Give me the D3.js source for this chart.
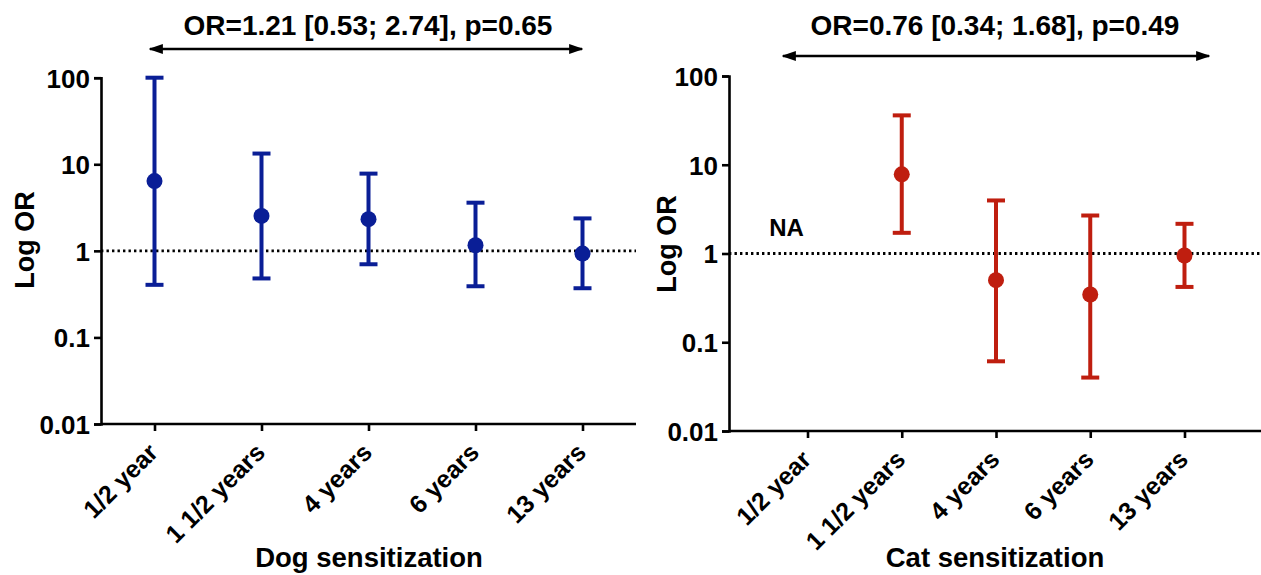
<!DOCTYPE html>
<html lang="en">
<head>
<meta charset="UTF-8">
<title>Dog and cat sensitization OR</title>
<script src="https://d3js.org/d3.v7.min.js"></script>
<style>
  body { margin: 0; background: #fff; }
  svg text { font-family: "Liberation Sans", Arial, sans-serif; font-weight: bold; fill: #000; }
</style>
</head>
<body>
<svg id="main" width="1261" height="575"></svg>
<script>
// values
const categories = ["1/2 year", "1 1/2 years", "4 years", "6 years", "13 years"];
const yTicks = [0.01, 0.1, 1, 10, 100];

const dogOR   = [6.4, 2.53, 2.32, 1.16, 0.93];
const dogLow  = [0.405, 0.48, 0.70, 0.39, 0.37];
const dogHigh = [100, 13.3, 7.8, 3.6, 2.37];

const catOR   = [null, 7.8, 0.50, 0.345, 0.95];
const catLow  = [null, 1.71, 0.061, 0.040, 0.42];
const catHigh = [null, 36, 3.96, 2.68, 2.16];

const dogTitle = "OR=1.21 [0.53; 2.74], p=0.65";
const catTitle = "OR=0.76 [0.34; 1.68], p=0.49";

let svg = d3.select("svg#main");

// one arrowhead, reversed at the start
svg.append("defs").append("marker")
    .attr("id", "arrowHead")
    .attr("viewBox", "0 0 10 10")
    .attr("refX", 9).attr("refY", 5)
    .attr("markerWidth", 5.5).attr("markerHeight", 5.5)
    .attr("markerUnits", "strokeWidth")
    .attr("orient", "auto-start-reverse")
    .append("path")
    .attr("d", "M0,1.5 L10,5 L0,8.5 Z")
    .attr("fill", "#000");

function drawPanel(p) {
    let g = svg.append("g");

    let x = d3.scalePoint()
        .domain(categories)
        .range([p.left, p.right])
        .padding(p.pad);

    let y = d3.scaleLog()
        .domain([0.01, 100])
        .range([p.bottom, p.top]);

    // reference line at OR = 1
    g.append("line")
        .attr("x1", p.left).attr("x2", p.right)
        .attr("y1", y(1)).attr("y2", y(1))
        .attr("stroke", "#000")
        .attr("stroke-width", 2.8)
        .attr("stroke-dasharray", "2.4,3.1");

    // axes
    let yAxis = g.append("g")
        .attr("transform", "translate(" + p.left + ",0)")
        .call(d3.axisLeft(y).tickValues(yTicks).tickFormat(d => String(d)).tickSize(7).tickPadding(4));
    let xAxis = g.append("g")
        .attr("transform", "translate(0," + p.bottom + ")")
        .call(d3.axisBottom(x).tickSize(7).tickFormat(""));
    [yAxis, xAxis].forEach(function(a) {
        a.select(".domain").attr("stroke", "#000").attr("stroke-width", 2.6);
        a.selectAll(".tick line").attr("stroke", "#000").attr("stroke-width", 2.6);
    });
    yAxis.selectAll(".tick text")
        .style("font-size", "26px")
        .attr("dy", "0.36em");
    xAxis.select(".domain").attr("d", "M" + p.left + ",0H" + p.right);

    // rotated category labels
    g.selectAll(".xlab")
        .data(categories)
        .enter()
        .append("text")
        .attr("class", "xlab")
        .attr("transform", d => "translate(" + (x(d) + 5) + "," + (p.bottom + 30) + ") rotate(-45)")
        .attr("text-anchor", "end")
        .style("font-size", "25px")
        .text(d => d);

    // axis titles
    g.append("text")
        .attr("transform", "translate(" + p.ylabX + "," + p.ylabY + ") rotate(-90)")
        .attr("text-anchor", "middle")
        .style("font-size", "27px")
        .text("Log OR");
    g.append("text")
        .attr("x", p.xlabX).attr("y", 567)
        .attr("text-anchor", "middle")
        .style("font-size", "27.5px")
        .text(p.xTitle);

    // OR summary with arrow
    g.append("text")
        .attr("x", p.titleX).attr("y", 35)
        .attr("text-anchor", "middle")
        .style("font-size", "28px")
        .text(p.title);
    g.append("line")
        .attr("x1", p.arrow[0]).attr("x2", p.arrow[1])
        .attr("y1", p.arrowY).attr("y2", p.arrowY)
        .attr("stroke", "#000")
        .attr("stroke-width", 2.6)
        .attr("marker-start", "url(#arrowHead)")
        .attr("marker-end", "url(#arrowHead)");

    // error bars and points
    let rows = categories.map((c, i) => ({cat: c, or: p.or[i], lo: p.lo[i], hi: p.hi[i]}))
        .filter(d => d.or != null);

    let marks = g.selectAll(".mark")
        .data(rows)
        .enter()
        .append("g")
        .attr("class", "mark")
        .attr("stroke", p.color)
        .attr("fill", p.color);

    marks.append("line")
        .attr("x1", d => x(d.cat)).attr("x2", d => x(d.cat))
        .attr("y1", d => y(d.lo)).attr("y2", d => y(d.hi))
        .attr("stroke-width", 4);
    marks.append("line")
        .attr("x1", d => x(d.cat) - 9).attr("x2", d => x(d.cat) + 9)
        .attr("y1", d => y(d.hi)).attr("y2", d => y(d.hi))
        .attr("stroke-width", 4);
    marks.append("line")
        .attr("x1", d => x(d.cat) - 9).attr("x2", d => x(d.cat) + 9)
        .attr("y1", d => y(d.lo)).attr("y2", d => y(d.lo))
        .attr("stroke-width", 4);
    marks.append("circle")
        .attr("cx", d => x(d.cat))
        .attr("cy", d => y(d.or))
        .attr("r", 8)
        .attr("stroke", "none");

    if (p.na) {
        g.append("text")
            .attr("x", x(categories[0]) - 21)
            .attr("y", y(1) - 18)
            .attr("text-anchor", "middle")
            .style("font-size", "24px")
            .text("NA");
    }
}

drawPanel({
    left: 101, right: 636, pad: 0.5, top: 77.7, bottom: 424,
    or: dogOR, lo: dogLow, hi: dogHigh, color: "#0a1e96",
    title: dogTitle, titleX: 368, arrow: [150, 582], arrowY: 49,
    xTitle: "Dog sensitization", xlabX: 369, ylabX: 34, ylabY: 240, na: false
});

drawPanel({
    left: 729, right: 1263, pad: 0.833, top: 76, bottom: 431,
    or: catOR, lo: catLow, hi: catHigh, color: "#bf1e0f",
    title: catTitle, titleX: 995, arrow: [783, 1209], arrowY: 56,
    xTitle: "Cat sensitization", xlabX: 995, ylabX: 676, ylabY: 244, na: true
});
</script>
</body>
</html>
